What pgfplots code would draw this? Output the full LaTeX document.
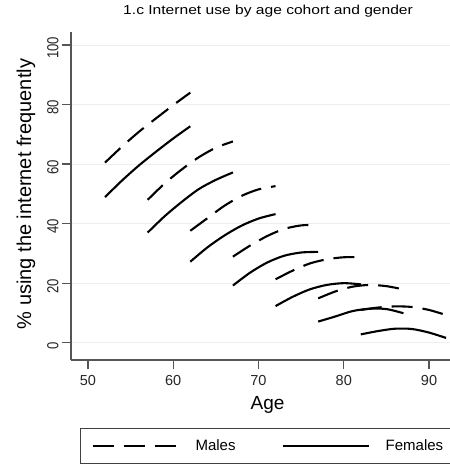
\documentclass[border=0pt]{standalone}
\usepackage{fontspec}
\setmainfont{Liberation Sans}
\newfontfamily\titlefont[FakeStretch=1.2]{Liberation Sans}
\newfontfamily\narrowfont[FakeStretch=0.82]{Liberation Sans}
\usepackage{pgfplots}
\pgfplotsset{compat=1.18}
\definecolor{axgray}{RGB}{85,85,85}
\definecolor{gridgray}{RGB}{238,238,238}
\begin{document}
\begin{tikzpicture}[x=1pt,y=1pt]
\useasboundingbox (0,0) rectangle (450,475);
\clip (0,0) rectangle (450,475);
\begin{axis}[
  at={(71pt,115pt)}, anchor=south west,
  scale only axis, width=379pt, height=328pt,
  xmin=48.01, xmax=92.46, ymin=-5.81, ymax=104.37,
  axis x line*=bottom, axis y line*=left,
  axis line style={axgray, line width=1.2pt},
  every tick/.style={axgray, line width=1.2pt},
  tick align=outside, major tick length=9pt,
  xtick={50,60,70,80,90}, ytick={0,20,40,60,80,100},
  /pgf/number format/assume math mode=true,
  ymajorgrids, grid style={gridgray, line width=0.8pt},
  xticklabel style={font=\fontsize{14.5}{16}\selectfont, text=black!85, yshift=-3pt},
  yticklabel style={font=\fontsize{16}{18}\narrowfont, text=black!85, rotate=90, anchor=south, xshift=-3pt},
  title={\fontsize{13}{15}\titlefont 1.c Internet use by age cohort and gender},
  title style={at={(axis description cs:0.52,1.0345)}, anchor=base, inner sep=0pt},
  xlabel={\fontsize{19}{21}\selectfont Age},
  xlabel style={at={(axis description cs:0.5185,-0.1524)}, anchor=base, inner sep=0pt},
  ylabel={\fontsize{20}{22}\selectfont \% using the internet frequently},
  ylabel style={at={(axis description cs:-0.1055,0.506)}, anchor=base, inner sep=0pt},
  legend columns=2,
  legend image code/.code={\draw[#1] (0pt,0pt) -- (86pt,0pt);},
  legend style={at={(axis description cs:0.0237,-0.208)}, anchor=north west,
    draw=black!75, line width=1pt, inner xsep=11pt, inner ysep=9pt,
    font=\fontsize{15}{18}\selectfont,
    /tikz/every odd column/.append style={column sep=14pt},
    /tikz/every even column/.append style={column sep=44pt}},
  legend cell align=left,
  clip=false,
]
\pgfplotsset{male/.style={black, line width=2.1pt, dash pattern=on 21pt off 10pt, smooth},
             female/.style={black, line width=2.1pt, smooth}}
% Males
\addplot[male] coordinates {(52,60.5) (54,65.9) (56,70.9) (58,75.4) (60,79.8) (62,84.0)};
\addlegendentry{Males}
\addplot[female] coordinates {(52,48.9) (54,54.5) (56,59.6) (58,64.2) (60,68.6) (62,72.7)};
\addlegendentry{Females}
\addplot[male, forget plot] coordinates {(57,48.0) (59,53.5) (61,58.2) (63,62.3) (65,65.5) (67,67.6)};
\addplot[male, forget plot] coordinates {(62,37.6) (64,41.8) (66,46.0) (68,49.3) (70,51.5) (72,52.6)};
\addplot[male, forget plot] coordinates {(67,28.9) (69,32.6) (71,35.8) (73,38.2) (75,39.4) (77,39.6)};
\addplot[male, forget plot] coordinates {(72,21.3) (74,24.2) (76,26.6) (78,28.0) (80,28.7) (82,28.7)};
\addplot[male, forget plot] coordinates {(77,14.9) (79,17.2) (81,18.8) (83,19.4) (85,19.0) (87,17.9)};
\addplot[male, forget plot] coordinates {(82,11.0) (84,11.8) (86,12.2) (88,12.0) (90,11.0) (92,9.3)};
% Females
\addplot[female, forget plot] coordinates {(57,37.0) (59,42.5) (61,47.3) (63,51.6) (65,54.7) (67,57.2)};
\addplot[female, forget plot] coordinates {(62,27.2) (64,32.0) (66,36.0) (68,39.3) (70,41.7) (72,43.2)};
\addplot[female, forget plot] coordinates {(67,19.2) (69,23.5) (71,26.9) (73,29.2) (75,30.3) (77,30.5)};
\addplot[female, forget plot] coordinates {(72,12.3) (74,15.4) (76,17.9) (78,19.4) (80,20.0) (82,19.6)};
\addplot[female, forget plot] coordinates {(77,7.1) (79,8.8) (81,10.6) (83,11.4) (85,11.3) (87,9.9)};
\addplot[female, forget plot] coordinates {(82,2.8) (84,3.9) (86,4.7) (88,4.6) (90,3.4) (92,1.6)};
\end{axis}
\end{tikzpicture}
\end{document}
